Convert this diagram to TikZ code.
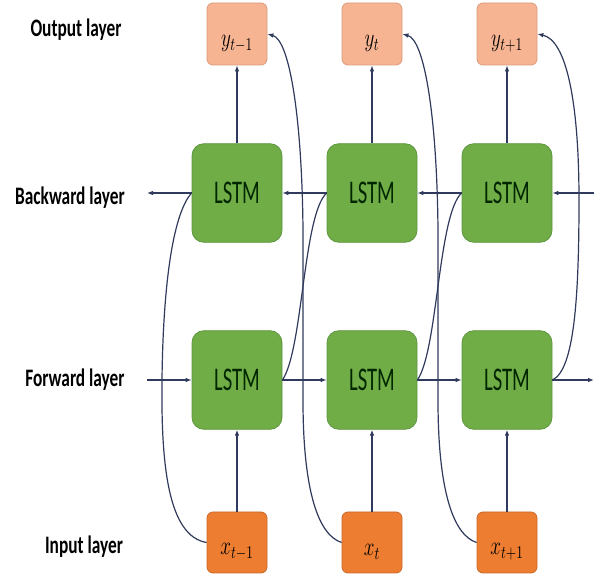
\documentclass[tikz,border=0pt]{standalone}
\usepackage{fontspec}
\setmainfont{Carlito}
\usepackage{graphicx}
\usetikzlibrary{arrows.meta}
\definecolor{outfill}{HTML}{F6B493}
\definecolor{outdraw}{HTML}{D99A7A}
\definecolor{infill}{HTML}{ED7D31}
\definecolor{indraw}{HTML}{C8692A}
\definecolor{lstmfill}{HTML}{70AD47}
\definecolor{lstmdraw}{HTML}{5E9640}
\definecolor{wire}{HTML}{2F3A5C}
\newcommand{\vsl}[1]{\scalebox{1}[1.45]{#1}}
\newcommand{\vsm}[1]{\scalebox{1}[1.6]{#1}}
\newcommand{\vsx}[1]{\scalebox{1}[1.35]{#1}}
\tikzset{
  outbox/.style={draw=outdraw, fill=outfill, rounded corners=4.5pt, minimum width=45pt, minimum height=46.5pt, inner sep=0pt, line width=0.6pt},
  inbox/.style={draw=indraw, fill=infill, rounded corners=4.5pt, minimum width=45pt, minimum height=45.75pt, inner sep=0pt, line width=0.6pt},
  lstmbox/.style={draw=lstmdraw, fill=lstmfill, rounded corners=9pt, minimum width=67.5pt, minimum height=74pt, inner sep=0pt, line width=0.6pt, font=\fontsize{15.5}{18}\selectfont, text=black!85!green},
  layerlabel/.style={font=\bfseries\fontsize{13}{15}\selectfont, anchor=base, inner sep=0pt},
  wirel/.style={draw=wire, line width=0.9pt},
  arr/.style={wirel, -{Latex[length=4.5pt,width=3.5pt]}},
  mathlbl/.style={font=\fontsize{14.5}{17}\selectfont}
}
\begin{document}
\begin{tikzpicture}[x=0.75pt,y=-0.75pt]
\useasboundingbox (0,0) rectangle (594,581);
% layer labels
\node[layerlabel] (lo) at (76,37) {\vsl{Output layer}};
\node[layerlabel] (lb) at (70,205) {\vsl{Backward layer}};
\node[layerlabel] (lf) at (75,387) {\vsl{Forward layer}};
\node[layerlabel] (li) at (84,554) {\vsl{Input layer}};
% output boxes
\node[outbox, label={[mathlbl, yshift=-7pt]center:\vsx{$y_{t-1}$}}] (o1) at (237,34) {};
\node[outbox, label={[mathlbl, yshift=-7pt]center:\vsx{$y_{t}$}}] (o2) at (372,34) {};
\node[outbox, label={[mathlbl, yshift=-7pt]center:\vsx{$y_{t+1}$}}] (o3) at (507,34) {};
% input boxes
\node[inbox, label={[mathlbl, yshift=-7pt]center:\vsx{$x_{t-1}$}}] (i1) at (237,542.5) {};
\node[inbox, label={[mathlbl, yshift=-7pt]center:\vsx{$x_{t}$}}] (i2) at (372,542.5) {};
\node[inbox, label={[mathlbl, yshift=-7pt]center:\vsx{$x_{t+1}$}}] (i3) at (507,542.5) {};
% LSTM boxes
\node[lstmbox] (b1) at (237,193) {\vsm{LSTM}};
\node[lstmbox] (b2) at (372,193) {\vsm{LSTM}};
\node[lstmbox] (b3) at (507,193) {\vsm{LSTM}};
\node[lstmbox] (f1) at (237,380) {\vsm{LSTM}};
\node[lstmbox] (f2) at (372,380) {\vsm{LSTM}};
\node[lstmbox] (f3) at (507,380) {\vsm{LSTM}};
% free ends
\coordinate (fl) at (147,380);
\coordinate (fr) at (594,380);
\coordinate (bl) at (147,193);
\coordinate (br) at (594,193);
% vertical connectors
\foreach \k in {1,2,3}{
  \draw[arr] (i\k.north) -- (f\k.south);
  \draw[arr] (b\k.north) -- (o\k.south);
}
% forward layer
\draw[arr] (fl) -- (f1.west);
\draw[arr] (f1.east) -- (f2.west);
\draw[arr] (f2.east) -- (f3.west);
\draw[arr] (f3.east) -- (fr);
% backward layer
\draw[arr] (br) -- (b3.east);
\draw[arr] (b3.west) -- (b2.east);
\draw[arr] (b2.west) -- (b1.east);
\draw[arr] (b1.west) -- (bl);
% curve: x_{t-1} to backward LSTM 1
\draw[wirel] (i1.west) .. controls (168,536) and (161,465) .. (162,380)
  .. controls (163,290) and (172,215) .. (b1.west);
% S-curves forward k -> backward k+1
\draw[wirel] (f1.east) .. controls (303,350) and (303,215) .. (b2.west);
\draw[wirel] (f2.east) .. controls (438,350) and (438,215) .. (b3.west);
% long curves input k+1 -> output k
\draw[arr] (i2.west) .. controls (318,535) and (303,490) .. (303,400)
  -- (303,230) .. controls (302,120) and (290,40) .. (o1.east);
\draw[arr] (i3.west) .. controls (453,535) and (438,490) .. (438,400)
  -- (438,230) .. controls (437,120) and (425,40) .. (o2.east);
% forward LSTM 3 -> output 3
\draw[arr] (f3.east) .. controls (574,370) and (579,300) .. (579,200)
  .. controls (579,100) and (566,40) .. (o3.east);
\end{tikzpicture}
\end{document}
